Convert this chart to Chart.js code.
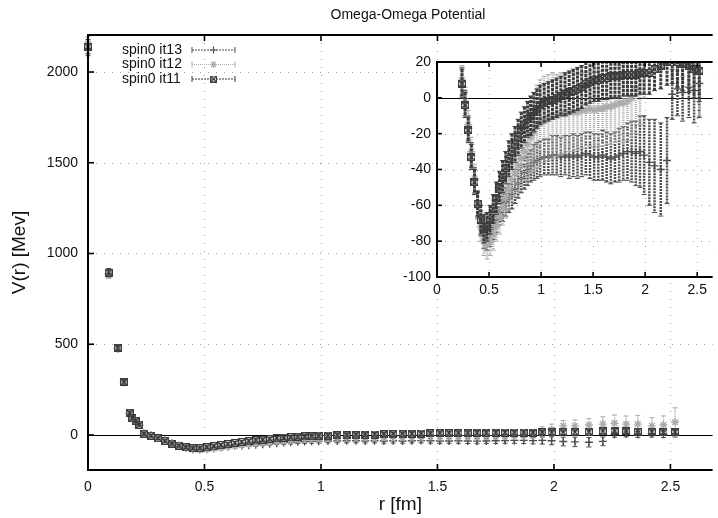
<!DOCTYPE html>
<html><head><meta charset="utf-8">
<script src="https://cdn.jsdelivr.net/npm/chart.js@4/dist/chart.umd.min.js"></script>
<style>
html,body{margin:0;padding:0;background:#fff;}
#wrap{position:relative;width:718px;height:518px;overflow:hidden;}
#main{position:absolute;left:0;top:0;}
#inset{position:absolute;left:380px;top:40px;}
</style></head><body>
<div id="wrap"><canvas id="main" width="718" height="518"></canvas><canvas id="inset" width="338" height="260"></canvas></div>
<script>
// ---------------- data ----------------
const chartTitle = 'Omega-Omega Potential';
const xAxisLabel = 'r [fm]';
const yAxisLabel = 'V(r) [Mev]';
const seriesLabels = ['spin0 it13', 'spin0 it12', 'spin0 it11'];

const xTicks = [0, 0.5, 1, 1.5, 2, 2.5];
const yTicksMain = [0, 500, 1000, 1500, 2000];
const yTicksInset = [-100, -80, -60, -40, -20, 0, 20];

const rValues = [
  0, 0.089, 0.128, 0.154, 0.179, 0.19, 0.204, 0.22,
  0.24, 0.27, 0.30, 0.33, 0.36, 0.39, 0.42, 0.45, 0.48, 0.51, 0.54, 0.57, 0.60, 0.63, 0.66, 0.69,
  0.72, 0.75, 0.78, 0.81, 0.84, 0.87, 0.90, 0.93, 0.96, 0.99,
  1.03, 1.07, 1.11, 1.15, 1.19, 1.23, 1.27, 1.31, 1.35, 1.39, 1.43, 1.47, 1.51, 1.55, 1.59,
  1.63, 1.67, 1.71, 1.75, 1.79, 1.83, 1.87, 1.91, 1.95, 1.99,
  2.04, 2.09, 2.15, 2.21, 2.26, 2.31, 2.36, 2.42, 2.47, 2.52
];

const it13 = [
  2130, 890, 478, 291, 120, 93, 77, 55,
  9, -3, -17, -32, -46, -60, -70, -77, -78, -76, -72, -68, -64, -61, -58, -56,
  -54, -51, -48, -45, -42, -40, -38, -36, -35, -34,
  -33, -33, -32, -32, -33, -32, -33, -32, -33, -32, -31, -32, -33, -33, -32,
  -33, -34, -33, -32, -31, -30, -30, -31, -30, -32,
  -36, -38, -40, -35, 2, 5, 3, 6, 4, 8
];
const it13Err = [
  40, 20, 15, 12, 10, 8, 8, 6,
  8, 7, 7, 7, 7, 7, 7, 7, 7, 7, 7, 7, 7, 8, 8, 8,
  8, 8, 8, 8, 9, 9, 9, 10, 10, 10,
  10, 10, 11, 11, 11, 11, 12, 12, 12, 12, 12, 13, 13, 13, 14,
  14, 14, 14, 15, 15, 16, 17, 18, 20, 22,
  24, 26, 26, 24, 14, 15, 16, 17, 18, 19
];

const it12 = [
  2150, 885, 475, 290, 118, 92, 76, 54,
  10, -2, -15, -30, -45, -60, -72, -80, -82, -80, -76, -71, -66, -61, -56, -51,
  -46, -42, -38, -34, -30, -26, -22, -19, -16, -14,
  -12, -11, -10, -10, -9, -9, -8, -8, -8, -7, -7, -6, -7, -6, -6,
  -5, -5, -4, -3, -3, -2, 0, 5, 15, 30,
  50, 50, 55, 60, 65, 60, 60, 50, 55, 70
];
const it12Err = [
  45, 22, 16, 12, 10, 8, 8, 6,
  8, 8, 8, 8, 8, 8, 8, 8, 8, 8, 9, 9, 10, 10, 11, 12,
  12, 13, 14, 15, 16, 18, 20, 22, 23, 24,
  24, 24, 24, 23, 23, 22, 22, 22, 21, 21, 21, 21, 21, 21, 21,
  21, 21, 21, 21, 22, 22, 22, 25, 30, 30,
  30, 32, 35, 40, 45, 45, 48, 45, 50, 80
];

const it11 = [
  2140, 895, 480, 292, 122, 94, 78, 56,
  8, -4, -18, -33, -47, -59, -68, -73, -72, -68, -62, -56, -50, -44, -39, -34,
  -30, -26, -22, -18, -15, -12, -10, -8, -6, -4,
  -3, -2, -1, 0, 1, 2, 3, 4, 5, 6, 8, 9, 10, 10, 11,
  11, 12, 12, 12, 13, 13, 13, 13, 14, 14,
  14, 16, 18, 20, 22, 20, 19, 18, 16, 15
];
const it11Err = [
  40, 22, 16, 12, 10, 8, 8, 6,
  8, 7, 7, 7, 7, 7, 8, 8, 8, 8, 8, 9, 9, 9, 9, 10,
  10, 10, 10, 10, 10, 10, 11, 11, 11, 11,
  11, 11, 11, 11, 11, 12, 12, 12, 12, 12, 12, 12, 12, 12, 12,
  12, 12, 12, 12, 12, 12, 12, 12, 12, 12,
  12, 12, 13, 13, 14, 14, 15, 15, 16, 17
];

// ---------------- styling helpers ----------------
const FONT = "'Liberation Sans', Arial, Helvetica, sans-serif";
const DARK = '#3c3c3c', MID = '#4e4e4e', LIGHT = '#ababab';

function boxX(color, s) {
  const c = document.createElement('canvas');
  c.width = s; c.height = s;
  const g = c.getContext('2d');
  g.strokeStyle = color; g.lineWidth = 1.2;
  g.strokeRect(0.5, 0.5, s - 1, s - 1);
  g.beginPath();
  g.moveTo(0.5, 0.5); g.lineTo(s - 0.5, s - 0.5);
  g.moveTo(s - 0.5, 0.5); g.lineTo(0.5, s - 0.5);
  g.stroke();
  return c;
}
const boxSmall = boxX(DARK, 7);
const boxBig = boxX(DARK, 8);

function pts(vals) { return rValues.map((r, i) => ({ x: r, y: vals[i] })); }

function makeDatasets(rad, errW, box) {
  // index 0 drawn last (on top)
  return [
    { label: seriesLabels[2], data: pts(it11), errors: it11Err, errColor: DARK, errDash: [3, 1], errW: errW + 0.5,
      pointStyle: box, pointRadius: rad, borderColor: DARK, backgroundColor: DARK, borderWidth: 1.2 },
    { label: seriesLabels[1], data: pts(it12), errors: it12Err, errColor: LIGHT, errDash: [1, 1], errW: errW,
      pointStyle: 'star', pointRadius: rad, borderColor: LIGHT, backgroundColor: LIGHT, borderWidth: 1.4 },
    { label: seriesLabels[0], data: pts(it13), errors: it13Err, errColor: MID, errDash: [2, 1], errW: errW,
      pointStyle: 'cross', pointRadius: rad, borderColor: MID, backgroundColor: MID, borderWidth: 1.4 }
  ];
}

const errorBars = {
  id: 'errorBars',
  beforeDatasetDraw(chart, args, opts) {
    const ds = chart.data.datasets[args.index];
    const xS = chart.scales.x, yS = chart.scales.y, ctx = chart.ctx, a = chart.chartArea;
    const m = opts.margin || 0;
    ctx.save();
    ctx.beginPath();
    ctx.rect(a.left - m, a.top - m, a.right - a.left + m, a.bottom - a.top + m);
    ctx.clip();
    ctx.strokeStyle = ds.errColor;
    ds.data.forEach((p, i) => {
      const e = ds.errors[i] || 0;
      const px = xS.getPixelForValue(p.x);
      const y1 = yS.getPixelForValue(p.y + e), y2 = yS.getPixelForValue(p.y - e);
      ctx.lineWidth = ds.errW;
      ctx.setLineDash(ds.errDash);
      ctx.beginPath(); ctx.moveTo(px, y1); ctx.lineTo(px, y2); ctx.stroke();
      ctx.setLineDash([]);
      ctx.lineWidth = 1;
      ctx.beginPath();
      ctx.moveTo(px - 2.5, y1); ctx.lineTo(px + 2.5, y1);
      ctx.moveTo(px - 2.5, y2); ctx.lineTo(px + 2.5, y2);
      ctx.stroke();
    });
    ctx.restore();
  }
};

function makeFrame(cfg) {
  return {
    id: 'frame',
    beforeDraw(chart) {
      const a = chart.chartArea, ctx = chart.ctx;
      if (cfg.fill) {
        ctx.save(); ctx.fillStyle = '#fff';
        ctx.fillRect(a.left, a.top, a.right - a.left, a.bottom - a.top);
        ctx.restore();
      }
    },
    beforeDatasetsDraw(chart) {
      const a = chart.chartArea, ctx = chart.ctx, xS = chart.scales.x, yS = chart.scales.y;
      ctx.save();
      ctx.strokeStyle = '#a0a0a0'; ctx.lineWidth = 1; ctx.setLineDash([1, 7]);
      xS.ticks.forEach(t => {
        if (t.value === 0) return;
        const px = Math.round(xS.getPixelForValue(t.value)) + 0.5;
        ctx.beginPath(); ctx.moveTo(px, a.top); ctx.lineTo(px, a.bottom); ctx.stroke();
      });
      yS.ticks.forEach(t => {
        if (t.value === 0 || t.value === yS.min || t.value === yS.max) return;
        const py = Math.round(yS.getPixelForValue(t.value)) + 0.5;
        ctx.beginPath(); ctx.moveTo(a.left, py); ctx.lineTo(a.right, py); ctx.stroke();
      });
      ctx.setLineDash([]);
      ctx.strokeStyle = '#000'; ctx.lineWidth = 1.2;
      const zy = Math.round(yS.getPixelForValue(0)) + 0.5;
      ctx.beginPath(); ctx.moveTo(a.left, zy); ctx.lineTo(a.right, zy); ctx.stroke();
      ctx.restore();
    },
    afterDatasetsDraw(chart) {
      const a = chart.chartArea, ctx = chart.ctx, xS = chart.scales.x, yS = chart.scales.y;
      ctx.save();
      ctx.strokeStyle = '#000'; ctx.lineWidth = 2;
      ctx.beginPath();
      ctx.moveTo(a.right, a.top); ctx.lineTo(a.left, a.top); ctx.lineTo(a.left, a.bottom); ctx.lineTo(a.right, a.bottom);
      ctx.stroke();
      ctx.lineWidth = 1.6;
      const tl = cfg.tick;
      xS.ticks.forEach(t => {
        const px = xS.getPixelForValue(t.value);
        ctx.beginPath();
        ctx.moveTo(px, a.bottom); ctx.lineTo(px, a.bottom - tl);
        ctx.moveTo(px, a.top); ctx.lineTo(px, a.top + tl);
        ctx.stroke();
      });
      yS.ticks.forEach(t => {
        const py = yS.getPixelForValue(t.value);
        ctx.beginPath(); ctx.moveTo(a.left, py); ctx.lineTo(a.left + tl, py); ctx.stroke();
      });
      ctx.restore();
    }
  };
}

const overlay = {
  id: 'overlay',
  afterDraw(chart) {
    const ctx = chart.ctx, a = chart.chartArea;
    ctx.save();
    ctx.fillStyle = '#111';
    ctx.font = '14px ' + FONT;
    ctx.textAlign = 'center'; ctx.textBaseline = 'middle';
    ctx.fillText(chartTitle, 408, 15);
    // legend
    const styles = [
      { color: MID, dash: [2, 1], marker: 'cross' },
      { color: LIGHT, dash: [1, 1], marker: 'star' },
      { color: DARK, dash: [2, 1], marker: 'box' }
    ];
    ctx.textAlign = 'left';
    seriesLabels.forEach((lab, i) => {
      const y = a.top + 15 + i * 14.5;
      ctx.fillStyle = '#111';
      ctx.fillText(lab, a.left + 34, y);
      const s = styles[i];
      const x1 = a.left + 104, x2 = a.left + 147, xm = (x1 + x2) / 2;
      ctx.strokeStyle = s.color; ctx.lineWidth = 1;
      ctx.setLineDash(s.dash);
      ctx.beginPath(); ctx.moveTo(x1, y); ctx.lineTo(x2, y); ctx.stroke();
      ctx.setLineDash([]);
      ctx.beginPath();
      ctx.moveTo(x1, y - 3); ctx.lineTo(x1, y + 3);
      ctx.moveTo(x2, y - 3); ctx.lineTo(x2, y + 3);
      ctx.stroke();
      ctx.lineWidth = 1.2;
      if (s.marker === 'box') {
        ctx.drawImage(boxSmall, xm - 3.5, y - 3.5);
      } else {
        Chart.helpers.drawPoint(ctx, { pointStyle: s.marker, radius: 3.5, borderWidth: 1.2, rotation: 0 }, xm, y);
      }
    });
    ctx.restore();
  }
};

const tickFont = { family: FONT, size: 14 };

function fixTicks(list) {
  return function (scale) { scale.ticks = list.map(v => ({ value: v })); };
}

// ---------------- main chart ----------------
new Chart(document.getElementById('main'), {
  type: 'scatter',
  data: { datasets: makeDatasets(4, 1.5, boxBig) },
  options: {
    responsive: false, animation: false, devicePixelRatio: 1, events: [],
    layout: { padding: { top: 35, left: 0, right: 0, bottom: 0 } },
    plugins: { legend: { display: false }, tooltip: { enabled: false }, errorBars: { margin: 5 } },
    datasets: { scatter: { clip: { left: 5, top: 5, right: 0, bottom: 0 } } },
    scales: {
      x: {
        type: 'linear', min: 0, max: 2.681,
        afterBuildTicks: fixTicks(xTicks),
        afterFit(s) { s.height = 48; },
        grid: { display: false, drawTicks: false }, border: { display: false },
        ticks: { font: tickFont, color: '#111', padding: 9, maxRotation: 0, autoSkip: false, callback: v => String(v) },
        title: { display: true, text: xAxisLabel, font: { family: FONT, size: 19 }, color: '#111', padding: { top: 0, bottom: 1.6 } }
      },
      y: {
        type: 'linear', min: -193, max: 2204,
        afterBuildTicks: fixTicks(yTicksMain),
        afterFit(s) { s.width = 88; },
        grid: { display: false, drawTicks: false }, border: { display: false },
        ticks: { font: tickFont, color: '#111', padding: 10, autoSkip: false, callback: v => String(v) },
        title: { display: true, text: yAxisLabel, font: { family: FONT, size: 19 }, color: '#111', padding: { top: 8.6, bottom: 0 } }
      }
    }
  },
  plugins: [errorBars, makeFrame({ fill: false, tick: 6 }), overlay]
});

// ---------------- inset chart ----------------
new Chart(document.getElementById('inset'), {
  type: 'scatter',
  data: { datasets: makeDatasets(4, 2.5, boxBig) },
  options: {
    responsive: false, animation: false, devicePixelRatio: 1, events: [],
    layout: { padding: { top: 22, left: 0, right: 0, bottom: 0 } },
    plugins: { legend: { display: false }, tooltip: { enabled: false }, errorBars: { margin: 0 } },
    datasets: { scatter: { clip: 0 } },
    scales: {
      x: {
        type: 'linear', min: 0, max: 2.648,
        afterBuildTicks: fixTicks(xTicks),
        afterFit(s) { s.height = 23; },
        grid: { display: false, drawTicks: false }, border: { display: false },
        ticks: { font: tickFont, color: '#111', padding: 5, maxRotation: 0, autoSkip: false, callback: v => String(v) }
      },
      y: {
        type: 'linear', min: -100, max: 20,
        afterBuildTicks: fixTicks(yTicksInset),
        afterFit(s) { s.width = 57; },
        grid: { display: false, drawTicks: false }, border: { display: false },
        ticks: { font: tickFont, color: '#111', padding: 6, autoSkip: false, callback: v => String(v) }
      }
    }
  },
  plugins: [errorBars, makeFrame({ fill: true, tick: 5 })]
});
</script>
</body></html>
